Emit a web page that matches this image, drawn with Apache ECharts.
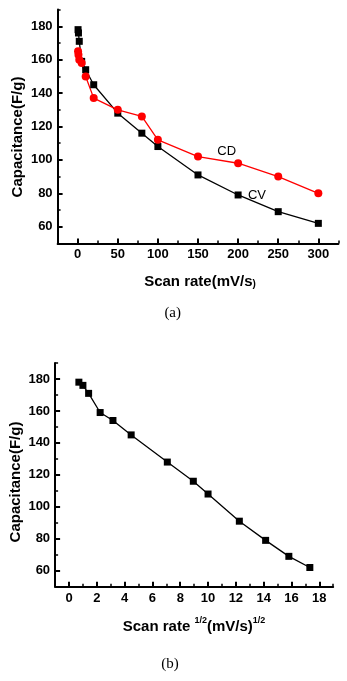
<!DOCTYPE html>
<html>
<head>
<meta charset="utf-8">
<script src="https://cdn.jsdelivr.net/npm/echarts@6/dist/echarts.min.js"></script>
<style>
html,body{margin:0;padding:0;background:#fff;}
#chart{width:347px;height:681px;}
</style>
</head>
<body>
<div id="chart"></div>
<script>
// ---- data ----
var scanRate = [0.5, 1, 2, 5, 10, 20, 50, 80, 100, 150, 200, 250, 300];
var cvCap = [178, 176, 171, 159, 154, 145, 128, 116, 108, 91, 79, 69, 62];
var cdCap = [165, 163, 160, 158, 150, 137, 130, 126, 112, 102, 98, 90, 80];
var sqrtRate = [0.71, 1.0, 1.41, 2.24, 3.16, 4.47, 7.07, 8.94, 10.0, 12.25, 14.14, 15.81, 17.32];
var cvCapB = [178, 176, 171, 159, 154, 145, 128, 116, 108, 91, 79, 69, 62];

var xTicksA = [0, 50, 100, 150, 200, 250, 300];
var xMinorA = [-25, 25, 75, 125, 175, 225, 275, 325];
var xTicksB = [0, 2, 4, 6, 8, 10, 12, 14, 16, 18];
var xMinorB = [-1, 1, 3, 5, 7, 9, 11, 13, 15, 17, 19];
var yTicks = [60, 80, 100, 120, 140, 160, 180];
var yMinor = [50, 70, 90, 110, 130, 150, 170, 190];

function pairs(xs, ys) { return xs.map(function (x, i) { return [x, ys[i]]; }); }

var labelFont = { fontFamily: 'Liberation Sans, Arial, sans-serif', fontWeight: 'bold', fontSize: 13, color: '#000' };

function mainX(grid, min, max, ticks) {
  return {
    type: 'value', gridIndex: grid, min: min, max: max, position: 'bottom',
    axisLine: { show: true, onZero: false, lineStyle: { color: '#000', width: 2 } },
    axisTick: { show: true, inside: true, length: 5, customValues: ticks, lineStyle: { color: '#000', width: 2 } },
    axisLabel: Object.assign({ customValues: ticks, margin: 5 }, labelFont),
    splitLine: { show: false }
  };
}
function minorX(grid, min, max, ticks) {
  return {
    type: 'value', gridIndex: grid, min: min, max: max, position: 'bottom',
    axisLine: { show: false, onZero: false },
    axisTick: { show: true, inside: true, length: 3, customValues: ticks, lineStyle: { color: '#000', width: 1.5 } },
    axisLabel: { show: false },
    splitLine: { show: false }
  };
}
function mainY(grid) {
  return {
    type: 'value', gridIndex: grid, min: 50, max: 190, position: 'left',
    axisLine: { show: true, onZero: false, lineStyle: { color: '#000', width: 2 } },
    axisTick: { show: true, inside: true, length: 5, customValues: yTicks, lineStyle: { color: '#000', width: 2 } },
    axisLabel: Object.assign({ customValues: yTicks, margin: 5 }, labelFont),
    splitLine: { show: false }
  };
}
function minorY(grid) {
  return {
    type: 'value', gridIndex: grid, min: 50, max: 190, position: 'left',
    axisLine: { show: false, onZero: false },
    axisTick: { show: true, inside: true, length: 3, customValues: yMinor, lineStyle: { color: '#000', width: 1.5 } },
    axisLabel: { show: false },
    splitLine: { show: false }
  };
}

var chart = echarts.init(document.getElementById('chart'), null, { renderer: 'canvas' });
var titleFont = 'bold 15px "Liberation Sans", Arial, sans-serif';

chart.setOption({
  animation: false,
  backgroundColor: '#fff',
  grid: [
    { left: 57.6, right: 8.6, top: 9.6, bottom: 437.6, containLabel: false },
    { left: 55.1, right: 13.8, top: 363, bottom: 94.3, containLabel: false }
  ],
  xAxis: [
    mainX(0, -25, 325, xTicksA),
    minorX(0, -25, 325, xMinorA),
    mainX(1, -1, 19, xTicksB),
    minorX(1, -1, 19, xMinorB)
  ],
  yAxis: [mainY(0), minorY(0), mainY(1), minorY(1)],
  series: [
    {
      name: 'CV', type: 'line', xAxisIndex: 0, yAxisIndex: 0,
      data: pairs(scanRate, cvCap),
      symbol: 'rect', symbolSize: 7,
      itemStyle: { color: '#000' }, lineStyle: { color: '#000', width: 1.3 }
    },
    {
      name: 'CD', type: 'line', xAxisIndex: 0, yAxisIndex: 0,
      data: pairs(scanRate, cdCap),
      symbol: 'circle', symbolSize: 8,
      itemStyle: { color: '#ff0000' }, lineStyle: { color: '#ff0000', width: 1.3 }
    },
    {
      name: 'CV-b', type: 'line', xAxisIndex: 2, yAxisIndex: 2,
      data: pairs(sqrtRate, cvCapB),
      symbol: 'rect', symbolSize: 7,
      itemStyle: { color: '#000' }, lineStyle: { color: '#000', width: 1.3 }
    }
  ],
  graphic: [
    { type: 'text', x: 18, y: 137, rotation: Math.PI / 2,
      style: { text: 'Capacitance(F/g)', font: titleFont, fill: '#000', textAlign: 'center', textVerticalAlign: 'middle' } },
    { type: 'text', x: 15.5, y: 482, rotation: Math.PI / 2,
      style: { text: 'Capacitance(F/g)', font: titleFont, fill: '#000', textAlign: 'center', textVerticalAlign: 'middle' } },
    { type: 'text', x: 200, y: 280,
      style: { text: '{a|Scan rate(mV/s}{b|)}', textAlign: 'center', textVerticalAlign: 'middle',
        rich: {
          a: { fontFamily: 'Liberation Sans, Arial, sans-serif', fontWeight: 'bold', fontSize: 15, fill: '#000', lineHeight: 18, verticalAlign: 'bottom' },
          b: { fontFamily: 'Liberation Sans, Arial, sans-serif', fontWeight: 'bold', fontSize: 10, fill: '#000', lineHeight: 18, verticalAlign: 'bottom' }
        } } },
    { type: 'text', x: 194, y: 625,
      style: { text: '{a|Scan rate }{s|1/2}{a|(mV/s)}{s|1/2}', textAlign: 'center', textVerticalAlign: 'middle',
        rich: {
          a: { fontFamily: 'Liberation Sans, Arial, sans-serif', fontWeight: 'bold', fontSize: 15, fill: '#000', lineHeight: 18, verticalAlign: 'bottom' },
          s: { fontFamily: 'Liberation Sans, Arial, sans-serif', fontWeight: 'bold', fontSize: 9, fill: '#000', lineHeight: 18, verticalAlign: 'top' }
        } } },
    { type: 'text', x: 226.7, y: 151,
      style: { text: 'CD', font: '13px "Liberation Sans", Arial, sans-serif', fill: '#000', textAlign: 'center', textVerticalAlign: 'middle' } },
    { type: 'text', x: 257, y: 195,
      style: { text: 'CV', font: '13px "Liberation Sans", Arial, sans-serif', fill: '#000', textAlign: 'center', textVerticalAlign: 'middle' } },
    { type: 'text', x: 172.7, y: 312.7,
      style: { text: '(a)', font: '15px "Liberation Serif", "Times New Roman", serif', fill: '#000', textAlign: 'center', textVerticalAlign: 'middle' } },
    { type: 'text', x: 170, y: 664,
      style: { text: '(b)', font: '15px "Liberation Serif", "Times New Roman", serif', fill: '#000', textAlign: 'center', textVerticalAlign: 'middle' } }
  ]
});
</script>
</body>
</html>
